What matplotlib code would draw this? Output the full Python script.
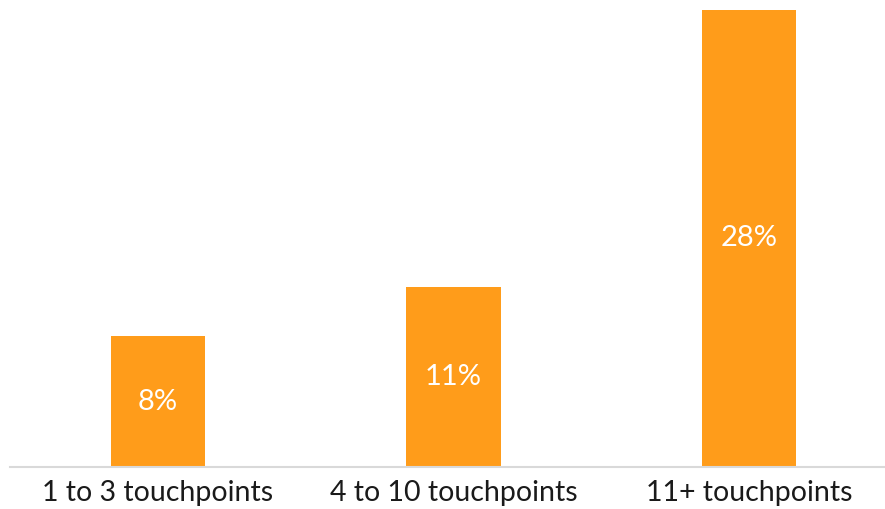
import matplotlib
matplotlib.use("Agg")
import matplotlib.pyplot as plt

categories = ["1 to 3 touchpoints", "4 to 10 touchpoints", "11+ touchpoints"]
values = [8, 11, 28]
labels = ["8%", "11%", "28%"]

plt.rcParams['font.family'] = ['Lato', 'DejaVu Sans']

fig = plt.figure(figsize=(8.85, 5.09), dpi=100)
ax = fig.add_axes([10 / 885, 42 / 509, 887 / 885, 457 / 509])

x = range(len(categories))
bars = ax.bar(x, values, width=0.318, color='#FF9C1A')

for b, lab in zip(bars, labels):
    ax.text(b.get_x() + b.get_width() / 2, b.get_height() / 2, lab,
            ha='center', va='center', color='white', fontsize=21)

ax.set_xlim(-0.5, 2.5)
ax.set_ylim(0, 28)
ax.set_xticks(list(x))
ax.set_xticklabels(categories, fontsize=20.5, color='#1a1a1a')
ax.tick_params(axis='x', length=0, pad=9)
ax.set_yticks([])
for s in ['top', 'right', 'left']:
    ax.spines[s].set_visible(False)
ax.spines['bottom'].set_color('#D9D9D9')
ax.spines['bottom'].set_linewidth(1.5)

fig.savefig('out.png', dpi=100)
